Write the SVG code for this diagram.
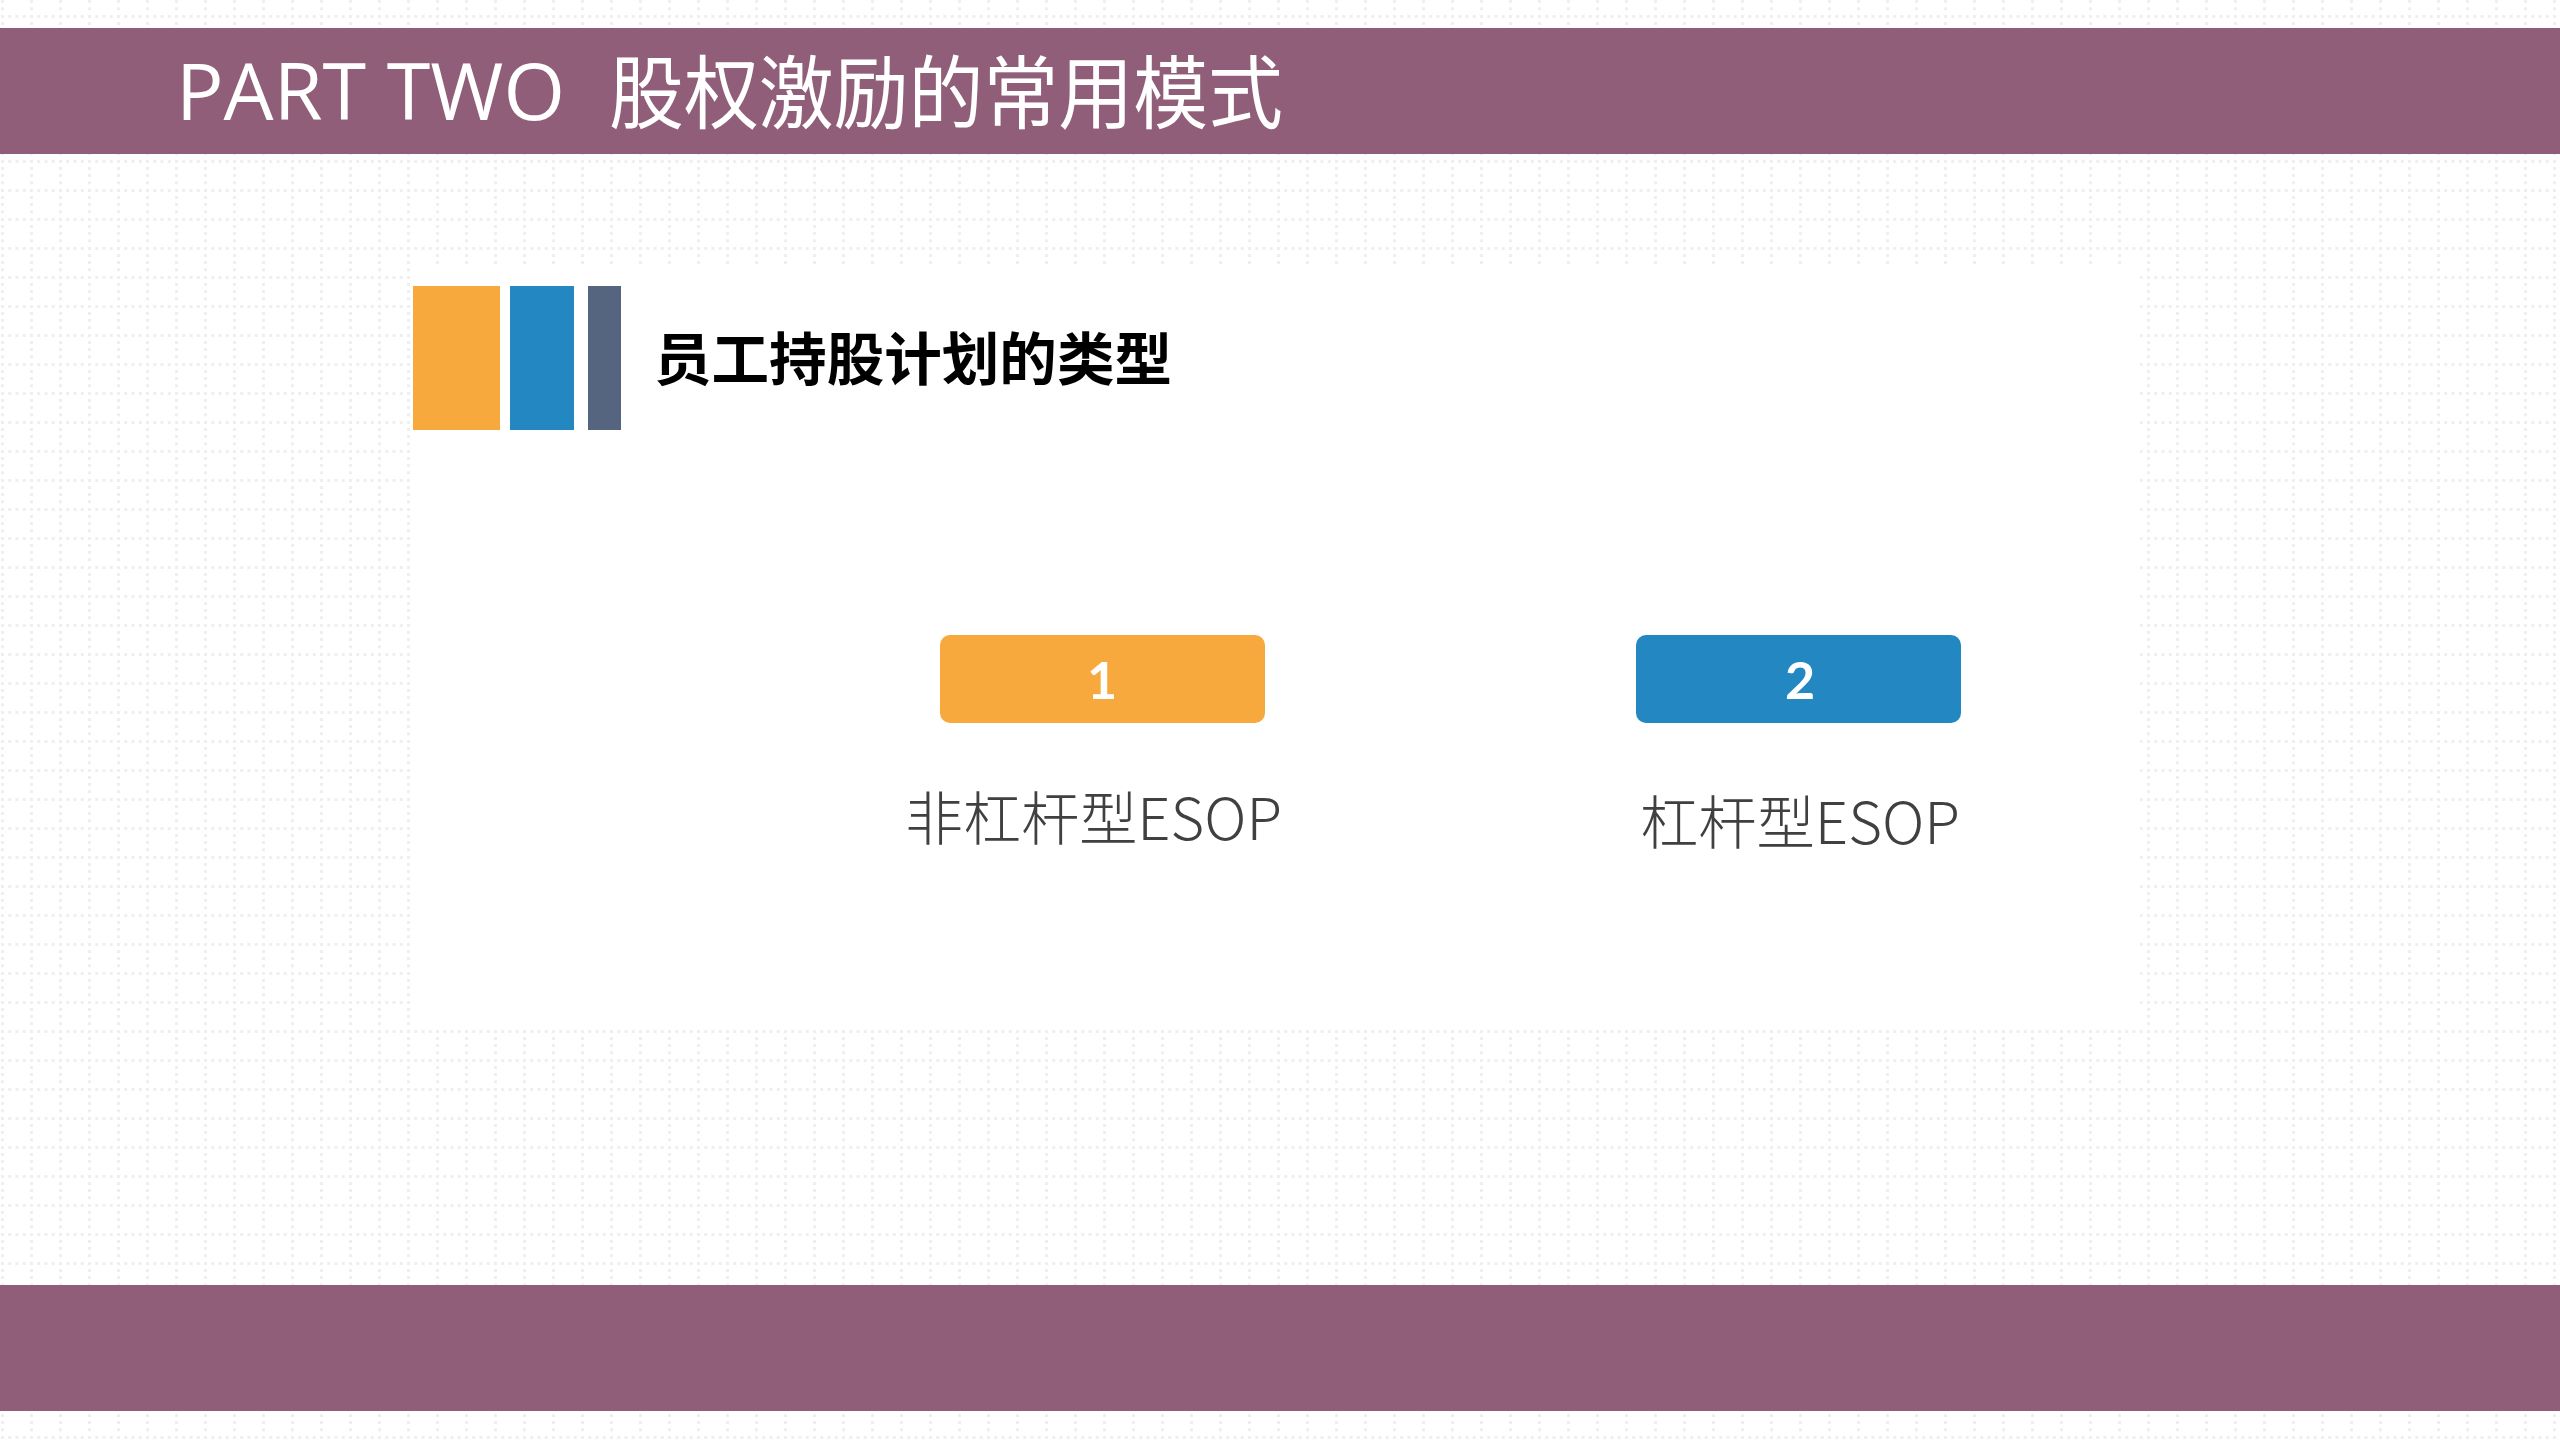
<svg xmlns="http://www.w3.org/2000/svg" width="2560" height="1440" viewBox="0 0 2560 1440">
<style>
.cjk{font-family:"Noto Sans CJK SC","Noto Sans",sans-serif}
.lat{font-family:"Open Sans","Noto Sans CJK SC",sans-serif}
.band{fill:#905e78}
.label{font-size:58px;fill:#404040;font-weight:300}
.num{font-family:Lato,"Open Sans",sans-serif;font-weight:700;font-size:52px;fill:#fff;text-anchor:middle}
</style>
<defs>
<pattern id="dots" width="29" height="29" patternUnits="userSpaceOnUse">
<g fill="#efefef">
<rect x="1" y="15" width="3" height="3"/><rect x="8.25" y="15" width="3" height="3"/><rect x="15.5" y="15" width="3" height="3"/><rect x="22.75" y="15" width="3" height="3"/>
<rect x="1" y="0" width="3" height="3"/><rect x="1" y="7.25" width="3" height="3"/><rect x="1" y="22" width="3" height="3"/>
</g>
</pattern>
</defs>
<rect id="background" width="2560" height="1440" fill="#fff"/>
<rect id="background-dots" x="1" y="0" width="2560" height="1440" fill="url(#dots)"/>
<rect id="panel" x="412" y="268" width="1728" height="762" fill="#fff"/>
<g id="top-band">
<rect class="band" x="0" y="28" width="2560" height="126"/>
<text x="176" y="120" font-size="78" fill="#fff" class="lat" textLength="389" lengthAdjust="spacingAndGlyphs">PART TWO</text>
<text x="609" y="122" font-size="80" fill="#fff" class="cjk" font-weight="400" textLength="674" lengthAdjust="spacingAndGlyphs">股权激励的常用模式</text>
</g>
<rect id="bottom-band" class="band" x="0" y="1285" width="2560" height="126"/>
<g id="heading">
<rect x="413" y="286" width="87" height="144" fill="#f7a93e"/>
<rect x="510" y="286" width="64" height="144" fill="#2388c2"/>
<rect x="588" y="286" width="33" height="144" fill="#56657f"/>
<text x="654" y="380" font-size="57" font-weight="700" fill="#000" class="cjk" textLength="518" lengthAdjust="spacingAndGlyphs">员工持股计划的类型</text>
</g>
<g id="node-1">
<rect x="940" y="635" width="325" height="88" rx="10" fill="#f7a93e"/>
<text x="1102" y="699" class="num">1</text>
<text x="905" y="840" class="cjk label" textLength="377" lengthAdjust="spacingAndGlyphs">非杠杆型ESOP</text>
</g>
<g id="node-2">
<rect x="1636" y="635" width="325" height="88" rx="10" fill="#2388c2"/>
<text x="1800" y="699" class="num">2</text>
<text x="1640" y="844" class="cjk label" textLength="320" lengthAdjust="spacingAndGlyphs">杠杆型ESOP</text>
</g>
<g id="connectors"/>
</svg>
